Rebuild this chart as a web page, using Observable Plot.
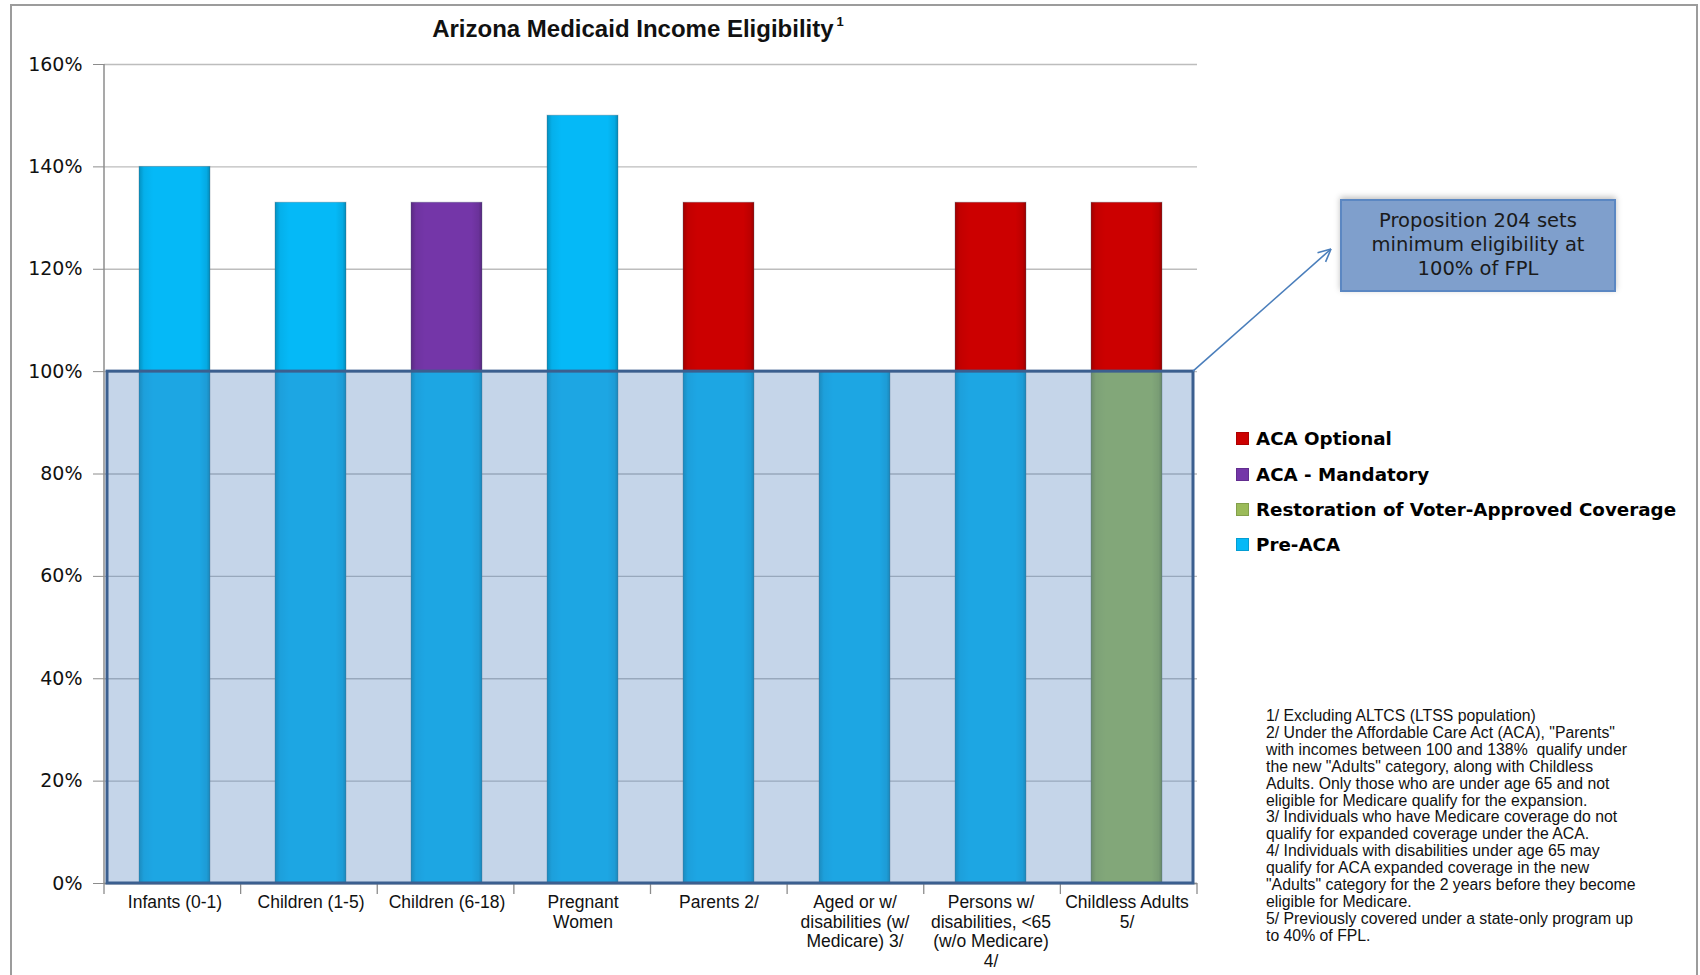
<!DOCTYPE html>
<html>
<head>
<meta charset="utf-8">
<script src="https://cdn.jsdelivr.net/npm/d3@7"></script>
<script src="https://cdn.jsdelivr.net/npm/@observablehq/plot@0.6"></script>
<style>
  html, body { margin: 0; padding: 0; background: #fff; }
  #wrap { position: relative; width: 1700px; height: 975px; overflow: hidden; background: #fff; }
  #frame { position: absolute; left: 10px; top: 4px; width: 1688px; height: 990px; border: 2px solid #9c9c9c; border-bottom: none; box-sizing: border-box; }
  #chart { position: absolute; left: 0; top: 0; }
  .title { position: absolute; left: 0; width: 1276px; top: 15px; text-align: center; font-family: "Liberation Sans", sans-serif; font-weight: bold; font-size: 24px; color: #111; }
  .title sup { font-size: 13px; vertical-align: top; position: relative; top: -1px; margin-left: 3px; }
  .legend { position: absolute; left: 1236px; top: 421px; font-family: "DejaVu Sans", sans-serif; font-weight: bold; font-size: 18.3px; color: #000; }
  .legend .item { display: flex; align-items: center; height: 35.4px; }
  .legend .sw { width: 13px; height: 13px; margin-right: 7px; box-shadow: inset 0 0 0 1px rgba(0,0,0,0.15); }
  .note { position: absolute; left: 1340px; top: 199px; width: 276px; height: 93px; box-sizing: border-box; background: #7f9fcc; border: 2px solid #5b87c2; box-shadow: 0 -2px 6px rgba(0,0,0,0.25); font-family: "DejaVu Sans", sans-serif; font-size: 19.5px; line-height: 24px; text-align: center; padding-top: 8px; color: #1a1a1a; }
  .foot { position: absolute; left: 1266px; top: 708px; font-family: "Liberation Sans", sans-serif; font-size: 15.8px; line-height: 16.9px; color: #111; white-space: pre; }
</style>
</head>
<body>
<div id="wrap">
  <div id="chart"></div>
  <div class="title" id="title"></div>
  <div class="note" id="note"></div>
  <div class="legend" id="legend"></div>
  <div class="foot" id="foot"></div>
  <div id="frame"></div>
</div>
<script>
// ---- Data ----
const categories = [
  "Infants (0-1)",
  "Children (1-5)",
  "Children (6-18)",
  "Pregnant\nWomen",
  "Parents 2/",
  "Aged or w/\ndisabilities (w/\nMedicare) 3/",
  "Persons w/\ndisabilities, <65\n(w/o Medicare)\n4/",
  "Childless Adults\n5/"
];
const seriesNames = ["ACA Optional", "ACA - Mandatory", "Restoration of Voter-Approved Coverage", "Pre-ACA"];
const seriesColors = ["#cc0000", "#7436a8", "#9bbb59", "#05b9f7"];
// base segment (0 → 100% FPL)
const baseSeries = ["Pre-ACA", "Pre-ACA", "Pre-ACA", "Pre-ACA", "Pre-ACA", "Pre-ACA", "Pre-ACA", "Restoration of Voter-Approved Coverage"];
const baseValues = [100, 100, 100, 100, 100, 100, 100, 100];
// top segment (above 100% FPL)
const topSeries = ["Pre-ACA", "Pre-ACA", "ACA - Mandatory", "Pre-ACA", "ACA Optional", "ACA Optional", "ACA Optional", "ACA Optional"];
const topValues = [40, 33, 33, 50, 33, 0, 33, 33];
const yTicks = [0, 20, 40, 60, 80, 100, 120, 140, 160];
const thresholdValue = 100;

const titleText = "Arizona Medicaid Income Eligibility";
const noteText = "Proposition 204 sets<br>minimum eligibility at<br>100% of FPL";
const footnotes = [
  "1/ Excluding ALTCS (LTSS population)",
  "2/ Under the Affordable Care Act (ACA), \"Parents\"",
  "with incomes between 100 and 138%  qualify under",
  "the new \"Adults\" category, along with Childless",
  "Adults. Only those who are under age 65 and not",
  "eligible for Medicare qualify for the expansion.",
  "3/ Individuals who have Medicare coverage do not",
  "qualify for expanded coverage under the ACA.",
  "4/ Individuals with disabilities under age 65 may",
  "qualify for ACA expanded coverage in the new",
  "\"Adults\" category for the 2 years before they become",
  "eligible for Medicare.",
  "5/ Previously covered under a state-only program up",
  "to 40% of FPL."
];

// ---- Table ----
const rows = [];
categories.forEach((c, i) => {
  rows.push({cat: c, series: baseSeries[i], value: baseValues[i]});
  if (topValues[i] > 0) rows.push({cat: c, series: topSeries[i], value: topValues[i]});
});

const W = 1700, H = 975;
const plot = Plot.plot({
  width: W,
  height: H,
  marginLeft: 104,
  marginRight: 503,
  marginTop: 64,
  marginBottom: 92,
  style: {background: "transparent", overflow: "visible"},
  x: {domain: categories, paddingInner: 0.48, paddingOuter: 0.24, label: null},
  y: {domain: [0, 160], ticks: yTicks, label: null},
  color: {domain: seriesNames, range: seriesColors},
  marks: [
    Plot.gridY(yTicks, {stroke: "#bdbdbd", strokeOpacity: 1, strokeWidth: 1.3}),
    Plot.barY(rows, Plot.stackY({x: "cat", y: "value", fill: "series", order: null,
      stroke: "#5a6f80", strokeOpacity: 0.35, strokeWidth: 1})),
    Plot.barY(rows, Plot.stackY({x: "cat", y: "value", order: null, fill: "url(#shadeH)"})),
    Plot.ruleY([0], {stroke: "#8c8c8c", strokeWidth: 1.5}),
    Plot.axisY({ticks: yTicks, tickFormat: d => d + "%", tickSize: 11, tickPadding: 11,
      fontSize: 19, fontFamily: "DejaVu Sans, sans-serif", stroke: "#8c8c8c", fill: "#111"}),
    Plot.axisX({tickSize: 0, tickPadding: 11, fontSize: 17.5, lineHeight: 1.11,
      fontFamily: "Liberation Sans, sans-serif", fill: "#111"})
  ]
});
document.getElementById("chart").appendChild(plot);

// ---- Extras drawn with the plot's own scales ----
const svg = d3.select(plot);
const xs = plot.scale("x"), ys = plot.scale("y");
const xRange = xs.range;
const defs = svg.insert("defs", ":first-child");
const g = defs.append("linearGradient").attr("id", "shadeH").attr("x1", 0).attr("x2", 1).attr("y1", 0).attr("y2", 0);
[[0, 0.22], [0.07, 0.05], [0.2, 0], [0.85, 0], [0.95, 0.08], [1, 0.25]].forEach(([o, a]) =>
  g.append("stop").attr("offset", o).attr("stop-color", "#000").attr("stop-opacity", a));

const y0 = ys.apply(0);
const yTop = ys.apply(d3.max(yTicks));
// y axis line
svg.append("line").attr("x1", xRange[0]).attr("x2", xRange[0]).attr("y1", yTop).attr("y2", y0)
  .attr("stroke", "#8c8c8c").attr("stroke-width", 1.5);

// category separator ticks below the baseline
const step = (xRange[1] - xRange[0]) / categories.length;
const tickG = svg.append("g");
for (let i = 0; i <= categories.length; i++) {
  const x = xRange[0] + i * step;
  tickG.append("line").attr("x1", x).attr("x2", x).attr("y1", y0).attr("y2", y0 + 11)
    .attr("stroke", "#8c8c8c").attr("stroke-width", 1.3);
}

// translucent "minimum eligibility" box 0 → 100%
const yT = ys.apply(thresholdValue);
const bx0 = xRange[0] + 3, bx1 = xRange[1] - 4;
svg.append("rect").attr("x", bx0).attr("y", yT).attr("width", bx1 - bx0).attr("height", y0 - yT)
  .attr("fill", "#4f81bd").attr("fill-opacity", 0.33)
  .attr("stroke", "#3b5f8f").attr("stroke-width", 3);

// arrow to the note box
const ax1 = bx1, ay1 = yT, ax2 = 1331, ay2 = 249;
svg.append("line").attr("x1", ax1).attr("y1", ay1).attr("x2", ax2).attr("y2", ay2)
  .attr("stroke", "#4a7ebb").attr("stroke-width", 1.6);
const ang = Math.atan2(ay2 - ay1, ax2 - ax1);
[-0.45, 0.45].forEach(d => {
  svg.append("line").attr("x1", ax2).attr("y1", ay2)
    .attr("x2", ax2 - 14 * Math.cos(ang + d)).attr("y2", ay2 - 14 * Math.sin(ang + d))
    .attr("stroke", "#4a7ebb").attr("stroke-width", 1.6);
});

// ---- HTML texts ----
document.getElementById("title").innerHTML = titleText + "<sup>1</sup>";
document.getElementById("note").innerHTML = noteText;
const legend = document.getElementById("legend");
seriesNames.forEach((s, i) => {
  const it = document.createElement("div");
  it.className = "item";
  it.innerHTML = `<span class="sw" style="background:${seriesColors[i]}"></span><span>${s}</span>`;
  legend.appendChild(it);
});
document.getElementById("foot").textContent = footnotes.join("\n");
</script>
</body>
</html>
